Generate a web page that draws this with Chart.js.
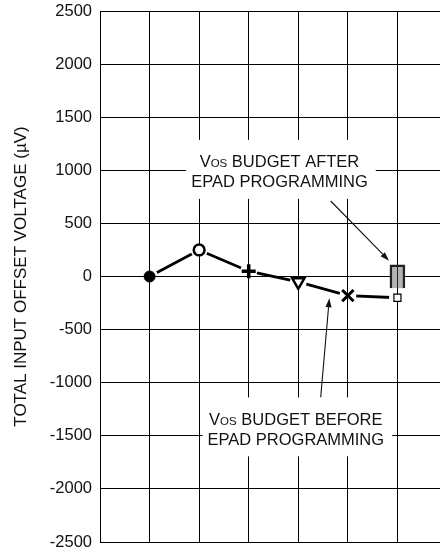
<!DOCTYPE html>
<html><head><meta charset="utf-8">
<script src="https://cdn.jsdelivr.net/npm/chart.js@4.4.0/dist/chart.umd.min.js"></script>
<style>
html,body{margin:0;padding:0;background:#fff;overflow:hidden;width:440px;height:547px;}
#wrap{position:absolute;left:0;top:0;width:450px;height:552px;}
</style></head><body>
<div id="wrap"><canvas id="c" width="450" height="552"></canvas></div>
<script>
// ---- data ----
const positions = [1, 2, 3, 4, 5, 6];
const offsetValues = [0, 250, 50, -50, -180, -200];
const budgetAfterX = [6];
const budgetAfterRange = [[-110, 110]];
const yTickValues = [-2500, -2000, -1500, -1000, -500, 0, 500, 1000, 1500, 2000, 2500];
const yTitle = 'TOTAL INPUT OFFSET VOLTAGE (\u00B5V)';
const noteAfterLine1 = ['V', 'OS', ' BUDGET AFTER'];
const noteAfterLine2 = 'EPAD PROGRAMMING';
const noteBeforeLine1 = ['V', 'OS', ' BUDGET BEFORE'];
const noteBeforeLine2 = 'EPAD PROGRAMMING';

// ---- annotation anchors (data units) ----
const noteAfterAt = {x: 3.62, y: 990};
const noteBeforeAt = {x: 3.95, y: -1435};
const arrowAfter = {from: [4.654, 711], to: [5.83, 149]};
const arrowBefore = {from: [4.452, -1137], to: [4.626, -205]};

const FAM = '"Liberation Sans", Arial, Helvetica, sans-serif';
Chart.defaults.font.family = FAM;

const pts = positions.map((x, i) => ({x: x, y: offsetValues[i]}));

const gapPlugin = {
  id: 'gaps',
  beforeDatasetDraw(chart, args) {
    if (args.index !== 0) return;
    const ctx = chart.ctx;
    const R = 8.5;
    const els = chart.getDatasetMeta(0).data;
    ctx.save();
    ctx.beginPath();
    ctx.rect(0, 0, chart.width, chart.height);
    els.forEach(p => { ctx.moveTo(p.x + R, p.y); ctx.arc(p.x, p.y, R, 0, Math.PI * 2); });
    ctx.clip('evenodd');
  },
  afterDatasetDraw(chart, args) {
    if (args.index !== 0) return;
    chart.ctx.restore();
  }
};

function drawNote(ctx, cx, cy, parts, line2) {
  const big = '16.5px ' + FAM;
  const small = '11.5px ' + FAM;
  ctx.font = big;
  const wV = ctx.measureText(parts[0]).width;
  const wRest = ctx.measureText(parts[2]).width;
  const w2 = ctx.measureText(line2).width;
  ctx.font = small;
  const wOS = ctx.measureText(parts[1]).width;
  const w1 = wV + wOS + wRest;
  const w = Math.max(w1, w2);
  const y1 = cy - 10, y2 = cy + 10;
  ctx.fillStyle = '#fff';
  ctx.fillRect(cx - w / 2 - 5, y1 - 21.5, w + 13, (y2 + 17.5) - (y1 - 21.5));
  ctx.fillStyle = '#111';
  ctx.textAlign = 'left';
  ctx.textBaseline = 'alphabetic';
  let x = cx - w1 / 2;
  ctx.font = big; ctx.fillText(parts[0], x, y1 + 6); x += wV;
  ctx.font = small; ctx.fillText(parts[1], x, y1 + 6); x += wOS;
  ctx.font = big; ctx.fillText(parts[2], x, y1 + 6);
  ctx.fillText(line2, cx - w2 / 2, y2 + 6);
}

function drawArrow(ctx, x1, y1, x2, y2) {
  ctx.strokeStyle = '#111';
  ctx.fillStyle = '#111';
  ctx.lineWidth = 1.1;
  const a = Math.atan2(y2 - y1, x2 - x1);
  const L = 9, H = 3;
  const bx = x2 - Math.cos(a) * L, by = y2 - Math.sin(a) * L;
  ctx.beginPath(); ctx.moveTo(x1, y1); ctx.lineTo(bx, by); ctx.stroke();
  ctx.beginPath();
  ctx.moveTo(x2, y2);
  ctx.lineTo(bx + Math.sin(a) * H, by - Math.cos(a) * H);
  ctx.lineTo(bx - Math.sin(a) * H, by + Math.cos(a) * H);
  ctx.closePath(); ctx.fill();
}

const notesPlugin = {
  id: 'notes',
  beforeDatasetsDraw(chart) {
    const ctx = chart.ctx, xs = chart.scales.x, ys = chart.scales.y;
    ctx.save();
    drawNote(ctx, xs.getPixelForValue(noteAfterAt.x), ys.getPixelForValue(noteAfterAt.y), noteAfterLine1, noteAfterLine2);
    drawNote(ctx, xs.getPixelForValue(noteBeforeAt.x), ys.getPixelForValue(noteBeforeAt.y), noteBeforeLine1, noteBeforeLine2);
    [arrowAfter, arrowBefore].forEach(a => {
      drawArrow(ctx, xs.getPixelForValue(a.from[0]), ys.getPixelForValue(a.from[1]),
                     xs.getPixelForValue(a.to[0]), ys.getPixelForValue(a.to[1]));
    });
    ctx.restore();
  },
  afterDatasetsDraw(chart) {
    const ctx = chart.ctx;
    const meta = chart.getDatasetMeta(2);
    ctx.save();
    ctx.strokeStyle = '#222';
    ctx.lineWidth = 1;
    meta.data.forEach(el => {
      const x = Math.round(el.x) + 0.5;
      ctx.beginPath();
      ctx.moveTo(x, Math.min(el.y, el.base));
      ctx.lineTo(x, Math.max(el.y, el.base));
      ctx.stroke();
    });
    ctx.restore();
  }
};

new Chart(document.getElementById('c'), {
  type: 'scatter',
  data: {
    datasets: [
      {
        type: 'line', data: pts, borderColor: '#000', borderWidth: 2.8,
        pointRadius: 0, fill: false, tension: 0, order: 3
      },
      {
        type: 'scatter', data: pts, showLine: false, order: 1,
        pointStyle: ['circle', 'circle', 'cross', 'triangle', 'crossRot', 'rect'],
        pointRadius: [5.5, 5.4, 7, 7, 8, 5],
        pointRotation: [0, 0, 0, 180, 0, 0],
        pointBackgroundColor: ['#000', '#fff', '#000', '#fff', '#000', '#fff'],
        pointBorderColor: '#000',
        pointBorderWidth: [1, 2.5, 3.5, 2.5, 3, 1.2]
      },
      {
        type: 'bar', order: 2,
        data: budgetAfterX.map((x, i) => ({x: x, y: budgetAfterRange[i]})),
        backgroundColor: '#b4b4b4', borderColor: '#222', borderWidth: 2.5,
        barThickness: 15
      }
    ]
  },
  options: {
    responsive: false,
    animation: false,
    devicePixelRatio: 1,
    events: [],
    layout: {autoPadding: false, padding: {top: 11, bottom: 10, left: 0, right: 3}},
    plugins: {legend: {display: false}, tooltip: {enabled: false}},
    scales: {
      x: {
        type: 'linear', min: 0, max: 7, offset: false,
        ticks: {display: false, stepSize: 1},
        grid: {color: '#000', lineWidth: 1, drawTicks: false, offset: false},
        border: {color: '#000'},
        afterFit(s) { s.height = 0; s.paddingLeft = 0; s.paddingRight = 0; s.paddingTop = 0; s.paddingBottom = 0; }
      },
      y: {
        type: 'linear', min: -2500, max: 2500,
        afterBuildTicks(s) { s.ticks = yTickValues.map(v => ({value: v})); },
        ticks: {callback: v => String(v), font: {size: 16.5, family: FAM}, color: '#111', padding: 8},
        grid: {color: '#000', lineWidth: 1, drawTicks: false},
        border: {color: '#000'},
        title: {display: true, text: yTitle, font: {size: 17, family: FAM}, color: '#111', padding: {top: 11, bottom: 0}},
        afterFit(s) { s.width = 100; s.paddingTop = 0; s.paddingBottom = 0; s.paddingLeft = 0; s.paddingRight = 0; }
      }
    }
  },
  plugins: [gapPlugin, notesPlugin]
});
</script>
</body></html>
